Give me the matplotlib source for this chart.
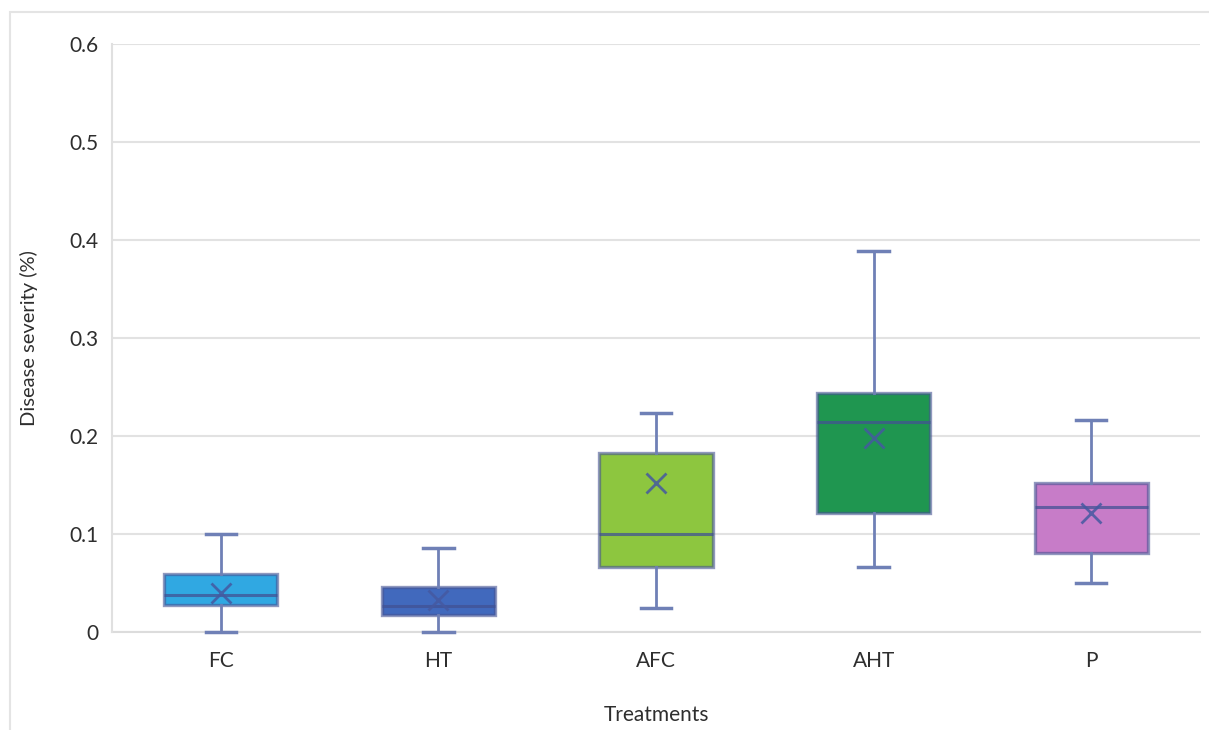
import matplotlib
matplotlib.use("Agg")
import matplotlib.pyplot as plt
from matplotlib.patches import Rectangle

categories = ["FC", "HT", "AFC", "AHT", "P"]
whisker_low = [0.0, 0.0, 0.025, 0.066, 0.050]
q1 = [0.028, 0.017, 0.066, 0.121, 0.081]
median = [0.038, 0.027, 0.100, 0.214, 0.128]
q3 = [0.059, 0.046, 0.183, 0.244, 0.152]
whisker_high = [0.100, 0.086, 0.223, 0.389, 0.216]
means = [0.040, 0.033, 0.152, 0.198, 0.121]
box_colors = ["#30a8e2", "#4169bd", "#8dc63f", "#1f9650", "#c77cc8"]
yticks = [0, 0.1, 0.2, 0.3, 0.4, 0.5, 0.6]
ytick_labels = ["0", "0.1", "0.2", "0.3", "0.4", "0.5", "0.6"]

plt.rcParams["font.family"] = ["Lato", "DejaVu Sans"]

fig = plt.figure(figsize=(12.09, 7.30), dpi=100)
fig.patches.append(Rectangle((10 / 1209, -0.02), 1.2, 1 - 12 / 730 + 0.02,
                             transform=fig.transFigure, fill=False,
                             edgecolor="#e4e4e4", linewidth=1.5))
ax = fig.add_axes([112 / 1209, 98 / 730, 1088 / 1209, 588 / 730])

stats = []
for i, c in enumerate(categories):
    stats.append(dict(label=c, whislo=whisker_low[i], q1=q1[i], med=median[i],
                      q3=q3[i], whishi=whisker_high[i], mean=means[i], fliers=[]))

line_col = "#6f80b6"
edge_rgba = (0.28, 0.33, 0.58, 0.6)
bp = ax.bxp(stats, positions=range(len(categories)), widths=0.52, capwidths=0.14,
            patch_artist=True, showmeans=True, showfliers=False,
            boxprops=dict(linewidth=2.4, edgecolor=edge_rgba),
            medianprops=dict(color=(0.26, 0.32, 0.58, 0.75), linewidth=2.2),
            whiskerprops=dict(color=line_col, linewidth=2),
            capprops=dict(color=line_col, linewidth=2.5),
            meanprops=dict(marker="x", markersize=14,
                           markeredgecolor=(0.27, 0.35, 0.63, 0.85),
                           markeredgewidth=2))
for patch, col in zip(bp["boxes"], box_colors):
    patch.set_facecolor(col)
    patch.set_zorder(3)
for k in ("medians", "means"):
    for a in bp[k]:
        a.set_zorder(4)
for k in ("caps", "whiskers"):
    for a in bp[k]:
        a.set_zorder(3)
        a.set_clip_on(False)

ax.set_xlim(-0.5, len(categories) - 0.5)
ax.set_ylim(0, 0.6)
ax.set_yticks(yticks)
ax.set_yticklabels(ytick_labels)
ax.yaxis.grid(True, color="#e2e2e2", linewidth=1.5, zorder=0)
ax.set_axisbelow(True)
for s in ("top", "right"):
    ax.spines[s].set_visible(False)
ax.spines["left"].set_color("#e0e0e0")
ax.spines["left"].set_linewidth(1.5)
ax.spines["bottom"].set_color("#dcdcdc")
ax.spines["bottom"].set_linewidth(1.5)
ax.spines["bottom"].set_zorder(1)
ax.tick_params(axis="both", length=0, labelsize=15, colors="#2e2e2e")
ax.tick_params(axis="y", pad=10)
ax.tick_params(axis="x", pad=14)
ax.set_xlabel("Treatments", fontsize=15, color="#2e2e2e", labelpad=24)
ax.set_ylabel("Disease severity (%)", fontsize=14.5, color="#2e2e2e", labelpad=22)

fig.savefig("out.png", dpi=100, facecolor="white")
